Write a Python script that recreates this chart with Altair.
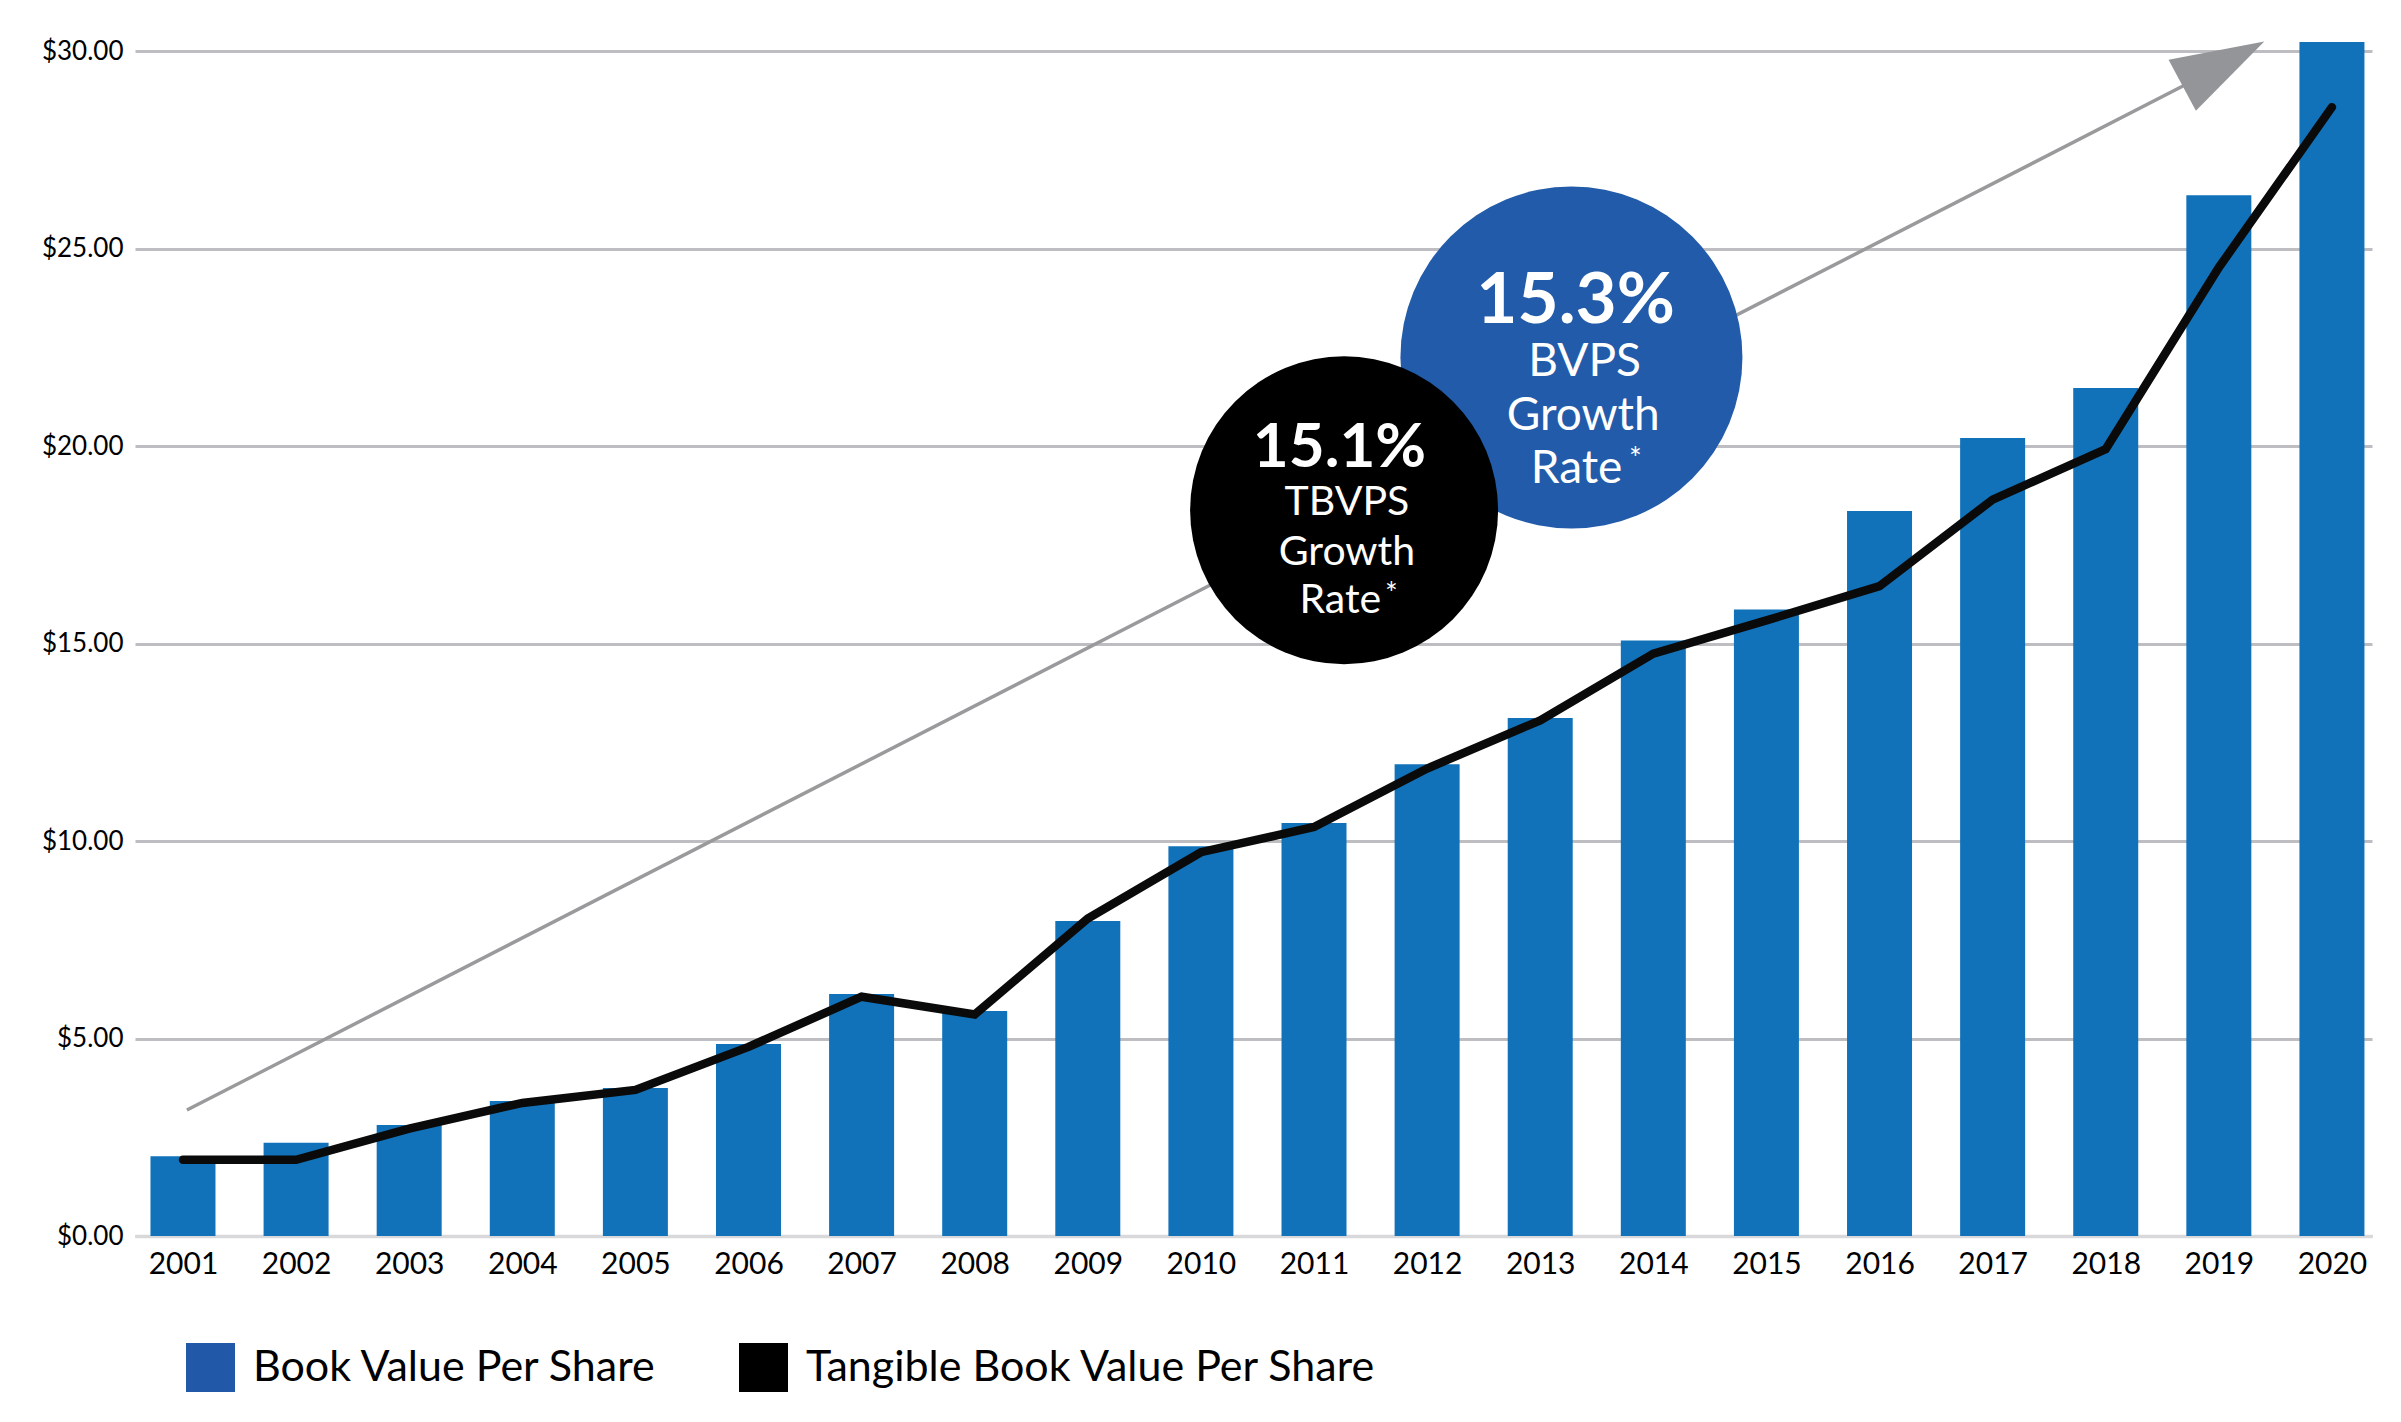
import altair as alt
import pandas as pd

# ---------------- data ----------------
years = list(range(2001, 2021))
bvps = [2.02, 2.36, 2.81, 3.42, 3.75, 4.86, 6.13, 5.70, 7.98, 9.87,
        10.46, 11.95, 13.12, 15.08, 15.87, 18.36, 20.21, 21.48, 26.36, 30.24]
tbvps = [1.93, 1.93, 2.72, 3.37, 3.70, 4.79, 6.06, 5.61, 8.04, 9.72,
         10.36, 11.84, 13.06, 14.75, 15.59, 16.46, 18.65, 19.93, 24.53, 28.59]
series_names = ["Book Value Per Share", "Tangible Book Value Per Share"]
y_ticks = [0, 5, 10, 15, 20, 25, 30]

# annotation texts
black_head = ["15.1%"]
black_lines = ["TBVPS", "Growth", "Rate"]
blue_head = ["15.3%"]
blue_lines = ["BVPS", "Growth", "Rate"]
star = ["*"]

# ---------------- styles ----------------
FONT = "Lato"
BAR_COLOR = "#1172BA"
LINE_COLOR = "#0A0A0A"
CIRCLE_BLUE = "#225BA9"
LEGEND_BLUE = "#2159A8"
ARROW_COLOR = "#9A9A9C"
ARROW_HEAD = "#939598"

x_scale = alt.Scale(domain=[2000.62, 2020.31], nice=False, zero=False)
y_scale = alt.Scale(domain=[0, 31], nice=False, zero=True)

x_axis = alt.Axis(values=years, format="d", title=None, grid=False, ticks=False,
                  domain=True, domainColor="#D9D9DB", domainWidth=3.5,
                  labelFont=FONT, labelFontSize=30, labelColor="#000000",
                  labelPadding=13, labelFlush=False, labelOverlap=False)
y_axis = alt.Axis(values=y_ticks, format="$.2f", title=None, grid=True,
                  gridColor="#BEBEC2", gridWidth=3, ticks=False, domain=False,
                  labelFont=FONT, labelFontSize=26, labelColor="#000000",
                  labelPadding=12)


def X(f="x"):
    return alt.X(f"{f}:Q", scale=x_scale, axis=x_axis)


def Y(f="y"):
    return alt.Y(f"{f}:Q", scale=y_scale, axis=y_axis)


df = pd.DataFrame({"x": years, "bvps": bvps, "tbvps": tbvps})

bars = alt.Chart(df).mark_bar(size=65, color=BAR_COLOR).encode(x=X("x"), y=Y("bvps"))
line = alt.Chart(df).mark_line(color=LINE_COLOR, strokeWidth=8.5, strokeCap="round",
                               strokeJoin="miter").encode(x=X("x"), y=Y("tbvps"))

# growth arrow (annotation, in data coordinates)
arrow_df = pd.DataFrame({"x": [2001.035], "y": [3.19], "x2": [2018.70], "y2": [29.15]})
arrow = alt.Chart(arrow_df).mark_rule(color=ARROW_COLOR, strokeWidth=3.5).encode(
    x=X(), y=Y(), x2=alt.X2("x2:Q"), y2=alt.Y2("y2:Q"))
head_df = pd.DataFrame({"x": [2019.039], "y": [29.70]})
head = alt.Chart(head_df).mark_point(
    shape="M0,-1L0.624,1L-0.624,1Z", filled=True, size=8649, angle=61.9,
    color=ARROW_HEAD, opacity=1, strokeWidth=0).encode(x=X(), y=Y())

# circles
blue_c = alt.Chart(pd.DataFrame({"x": [2013.276], "y": [22.25]})).mark_circle(
    size=116964, color=CIRCLE_BLUE, opacity=1).encode(x=X(), y=Y())
black_c = alt.Chart(pd.DataFrame({"x": [2011.266], "y": [18.38]})).mark_circle(
    size=94864, color="#000000", opacity=1).encode(x=X(), y=Y())


def txt(texts, xs, ys, size, bold=False, align="center"):
    d = pd.DataFrame({"t": texts, "x": xs, "y": ys})
    return alt.Chart(d).mark_text(font=FONT, fontSize=size,
                                  fontWeight="bold" if bold else "normal",
                                  color="white", align=align,
                                  baseline="alphabetic").encode(
        x=X(), y=Y(), text="t:N")


t1 = txt(black_head, [2011.225], [19.47], 62, bold=True)
t2 = txt(black_lines, [2011.291, 2011.291, 2011.232], [18.27, 16.99, 15.78], 41)
t3 = txt(blue_head, [2013.313], [23.12], 71, bold=True)
t4 = txt(blue_lines, [2013.392, 2013.380, 2013.321], [21.78, 20.41, 19.07], 46)
t5 = txt(star + star, [2011.628, 2013.784], [16.0, 19.43], 30, align="left")

# legend (through a real Vega-Lite legend)
leg_df = pd.DataFrame({"series": series_names, "x": [2001, 2001], "y": [0, 0]})
legend_layer = alt.Chart(leg_df).mark_square(opacity=0, size=10).encode(
    x=X(), y=Y(),
    color=alt.Color("series:N",
                    scale=alt.Scale(domain=series_names, range=[LEGEND_BLUE, "#000000"]),
                    legend=alt.Legend(title=None, orient="none", legendX=51, legendY=1331,
                                      direction="horizontal", symbolType="square",
                                      symbolSize=2401, symbolOpacity=1,
                                      symbolStrokeWidth=0, labelFont=FONT,
                                      labelFontSize=43, labelColor="#000000",
                                      labelOffset=18, columnPadding=81, padding=0,
                                      labelLimit=1000)))

chart = alt.layer(arrow, head, bars, line, blue_c, black_c, t1, t2, t3, t4, t5,
                  legend_layer).properties(
    width=2237, height=1224,
    autosize=alt.AutoSizeParams(type="none"),
    padding={"left": 127, "top": 4, "right": 21, "bottom": 170},
    background="white",
).configure_view(stroke=None)

chart.save("out.html", embed_options={"renderer": "svg", "actions": False})
